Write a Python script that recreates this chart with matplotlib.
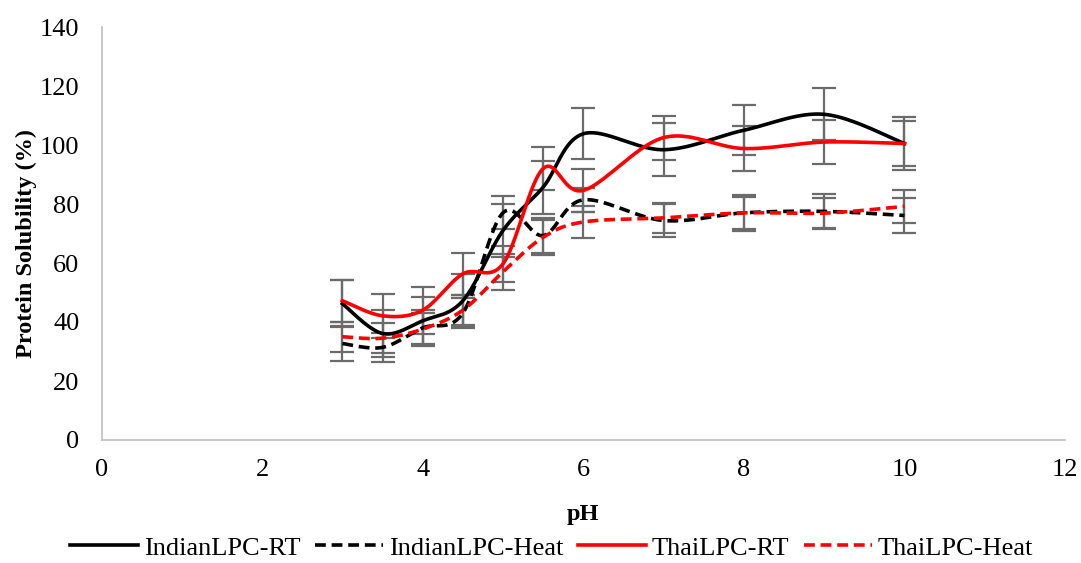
import numpy as np
import matplotlib
matplotlib.use("Agg")
import matplotlib.pyplot as plt
from matplotlib.lines import Line2D

plt.rcParams['font.family'] = ['Liberation Serif', 'DejaVu Serif']

ph = [3, 3.5, 4, 4.5, 5, 5.5, 6, 7, 8, 9, 10]

indian_rt = [46.2, 36.1, 40.4, 47.2, 71.0, 85.7, 103.8, 98.4, 105.0, 110.4, 100.5]
indian_rt_err = [8.0, 8.0, 8.0, 9.0, 9.0, 9.0, 8.6, 9.0, 8.5, 8.8, 9.0]

indian_heat = [32.7, 31.4, 38.0, 43.0, 77.0, 69.3, 81.4, 74.4, 77.0, 77.5, 76.1]
indian_heat_err = [6.0, 5.0, 6.0, 5.0, 5.6, 6.0, 4.0, 5.5, 6.0, 6.0, 6.0]

thai_rt = [47.2, 42.1, 44.0, 56.3, 59.7, 92.0, 84.6, 102.5, 98.8, 101.0, 100.5]
thai_rt_err = [7.2, 7.4, 8.0, 7.0, 6.0, 7.3, 7.4, 7.5, 7.5, 7.6, 7.7]

thai_heat = [35.0, 34.5, 37.6, 44.0, 57.0, 68.7, 73.9, 75.3, 77.0, 76.9, 79.2]
thai_heat_err = [5.0, 5.0, 5.5, 5.0, 6.0, 6.0, 5.4, 5.0, 5.5, 5.0, 5.5]

labels = ['IndianLPC-RT', 'IndianLPC-Heat', 'ThaiLPC-RT', 'ThaiLPC-Heat']
colors = ['black', 'black', '#ff0000', '#ff0000']
styles = ['-', '--', '-', '--']


def excel_smooth(x, y, n=40):
    x = np.asarray(x, float)
    y = np.asarray(y, float)
    P = np.column_stack([x, y])
    out = [P[0]]
    m = len(P)
    for i in range(m - 1):
        p0 = P[i - 1] if i > 0 else P[i]
        p1 = P[i]
        p2 = P[i + 1]
        p3 = P[i + 2] if i + 2 < m else P[i + 1]
        c1 = p1 + (p2 - p0) / 6.0
        c2 = p2 - (p3 - p1) / 6.0
        t = np.linspace(0, 1, n)[1:, None]
        seg = ((1 - t) ** 3) * p1 + 3 * ((1 - t) ** 2) * t * c1 + 3 * (1 - t) * t ** 2 * c2 + t ** 3 * p2
        out.extend(seg)
    out = np.array(out)
    return out[:, 0], out[:, 1]


fig = plt.figure(figsize=(10.81, 5.63), dpi=100)
ax = fig.add_axes([101.5 / 1081, 1 - 440 / 563, (1065 - 101.5) / 1081, (440 - 27) / 563])

series = [(indian_rt, indian_rt_err), (indian_heat, indian_heat_err),
          (thai_rt, thai_rt_err), (thai_heat, thai_heat_err)]

for (vals, errs) in series:
    ax.errorbar(ph, vals, yerr=errs, fmt='none', ecolor='#6b6b6b', elinewidth=1.6,
                capsize=8.5, capthick=1.6, zorder=2)

dash = (3, 1.6)
handles = []
for (vals, errs), lab, c, ls in zip(series, labels, colors, styles):
    sx, sy = excel_smooth(ph, vals)
    if ls == '--':
        ax.plot(sx, sy, color=c, linewidth=2.6, zorder=3, dashes=dash)
        handles.append(Line2D([0], [0], color=c, linewidth=2.6, dashes=dash))
    else:
        ax.plot(sx, sy, color=c, linewidth=2.6, zorder=3)
        handles.append(Line2D([0], [0], color=c, linewidth=2.6))

ax.set_xlim(0, 12)
ax.set_ylim(0, 140)
ax.set_xticks(range(0, 13, 2))
ax.set_yticks(range(0, 141, 20))
ax.tick_params(length=0, labelsize=19)
ax.tick_params(axis='x', pad=14)
ax.tick_params(axis='y', pad=16)
for s in ['top', 'right']:
    ax.spines[s].set_visible(False)
for s in ['left', 'bottom']:
    ax.spines[s].set_color('#bfbfbf')
    ax.spines[s].set_linewidth(1.2)

ax.set_xlabel('pH', fontsize=17.5, fontweight='bold', labelpad=16)
ax.set_ylabel('Protein Solubility (%)', fontsize=17.5, fontweight='bold', labelpad=2)
ax.yaxis.label.set_y(0.475)

fig.legend(handles, labels, loc='lower center', ncol=4, frameon=False, fontsize=19,
           bbox_to_anchor=(0.51, -0.036), handlelength=2.6, columnspacing=0.55,
           handletextpad=0.2)

fig.savefig('out.png', dpi=100)
